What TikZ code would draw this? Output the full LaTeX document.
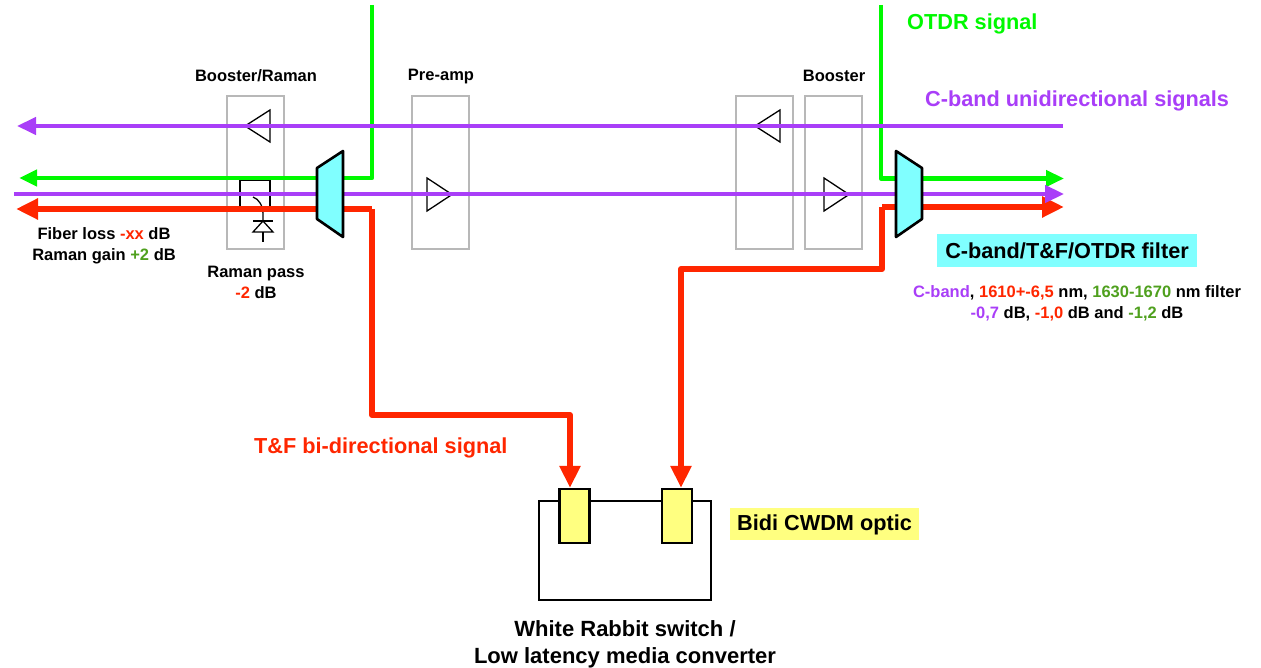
\documentclass[tikz,border=0pt]{standalone}
\usepackage{fontspec}
\setmainfont{Liberation Sans}
\usetikzlibrary{arrows.meta}
\definecolor{sigpurple}{HTML}{A93EF8}
\definecolor{siggreen}{HTML}{00F900}
\definecolor{sigred}{HTML}{FF2600}
\definecolor{txtgreen}{HTML}{4FA01E}
\definecolor{filtercyan}{HTML}{80FFFF}
\definecolor{opticyellow}{HTML}{FFFF80}
\tikzset{
  ampbox/.style={draw=black!28,line width=1.4pt,minimum width=57pt,minimum height=153pt,inner sep=0pt},
  opticbox/.style={draw=black,line width=2.2pt,fill=opticyellow,minimum width=30pt,minimum height=54pt,inner sep=0pt},
  small/.style={font=\fontsize{16.5}{21}\selectfont\bfseries,align=center,inner sep=0pt},
  big/.style={font=\fontsize{21.7}{27}\selectfont\bfseries,inner sep=0pt},
  purplesig/.style={draw=sigpurple,line width=4.5pt,-{Triangle[length=19pt,width=17pt]}},
  greensig/.style={draw=siggreen,line width=4.5pt,-{Triangle[length=18pt,width=16pt]}},
  redsig/.style={draw=sigred,line width=6pt,-{Triangle[length=22pt,width=20pt]}},
  amp/.style={draw=black,line width=1.3pt,fill=white},
  filt/.style={draw=black,line width=2.6pt,fill=filtercyan,line join=round},
}
\begin{document}
\begin{tikzpicture}[x=1pt,y=-1pt]
  \useasboundingbox (0,0) rectangle (1261,668);
  % amplifier boxes
  \node[ampbox] (boostraman) at (255.5,172.5) {};
  \node[ampbox] (preamp) at (440.5,172.5) {};
  \node[ampbox] (boostrx) at (764.5,172.5) {};
  \node[ampbox] (boosttx) at (833.5,172.5) {};
  % triangles
  \draw[amp] (245,126)--(270,110)--(270,142)--cycle;
  \draw[amp] (427,178)--(452,194.5)--(427,211)--cycle;
  \draw[amp] (755,126)--(780,110)--(780,142)--cycle;
  \draw[amp] (824,178)--(849,194.5)--(824,211)--cycle;
  % raman pass
  \coordinate (bypassa) at (240,208);
  \coordinate (bypassb) at (270,208);
  \coordinate (diodetop) at (263,221);
  \coordinate (diodelow) at (263,232);
  \draw[line width=1.3pt] (bypassa)--(240,180.5)--(270,180.5)--(bypassb);
  \draw[line width=1.3pt] (253,197) .. controls (259,199) and (263,206) .. (263,214)--(diodetop);
  \draw[line width=1.3pt] (diodelow)--(263,242);
  \draw[line width=1.3pt] (253,221)--(273,221);
  \draw[line width=1.3pt] (diodetop)--(273,232)--(253,232)--cycle;
  % switch with optics
  \node[draw,line width=2.2pt,minimum width=172pt,minimum height=99pt,inner sep=0pt] (switchbox) at (625,550.5) {};
  \node[opticbox] (optica) at (574.5,516) {};
  \node[opticbox] (opticb) at (677,516) {};
  % ends of the signals
  \coordinate (otdrW) at (372,5);
  \coordinate (otdrE) at (881,5);
  \coordinate (greenW) at (19,178);
  \coordinate (greenE) at (1064,178.5);
  \coordinate (redW) at (16,209);
  \coordinate (redE) at (1064,207);
  \coordinate (redturnW) at (372,209);
  \coordinate (redturnE) at (882,207);
  \coordinate (purpleaW) at (17,126);
  \coordinate (purpleaE) at (1063,126);
  \coordinate (purplebW) at (14,194);
  \coordinate (purplebE) at (1064,194);
  % signals
  \draw[greensig,line join=round] (otdrW)|-(greenW);
  \draw[greensig,line join=round] (otdrE)|-(greenE);
  \draw[redsig] (redturnW)--(redW);
  \draw[redsig,line join=round] (redturnW)--(372,415)--(570,415)--(570,0 |- optica.north);
  \draw[redsig] (redturnE)--(redE);
  \draw[redsig,line join=round] (redturnE)--(882,269)--(681,269)--(681,0 |- opticb.north);
  \draw[purplesig] (purpleaE)--(purpleaW);
  \draw[purplesig] (purplebW)--(purplebE);
  % filters
  \draw[filt] (317,168)--(343,151)--(343,237)--(317,219)--cycle;
  \draw[filt] (896,151)--(922,168)--(922,219)--(896,237)--cycle;
  % labels
  \node[small] (lblboostraman) at (256,75.5) {Booster/Raman};
  \node[small] (lblpreamp) at (441,77) {Pre-amp};
  \node[small] (lblbooster) at (834,75.5) {Booster};
  \node[small] (lblloss) at (104,246) {Fiber loss \textcolor{sigred}{-xx} dB\\Raman gain \textcolor{txtgreen}{+2} dB};
  \node[small] (lblpass) at (256,282) {Raman pass\\\textcolor{sigred}{-2} dB};
  \node[small] (lblfilter) at (1077,303.5) {\textcolor{sigpurple}{C-band}, \textcolor{sigred}{1610+-6,5} nm, \textcolor{txtgreen}{1630-1670} nm filter\\\textcolor{sigpurple}{-0,7} dB, \textcolor{sigred}{-1,0} dB and \textcolor{txtgreen}{-1,2} dB};
  \node[big,text=siggreen,anchor=west] (lblotdr) at (907,24) {OTDR signal};
  \node[big,text=sigpurple,anchor=west] (lblcband) at (925,101) {C-band unidirectional signals};
  \node[big,text=sigred,anchor=west] (lbltf) at (254,448) {T\&F bi-directional signal};
  \node[big,fill=filtercyan,minimum width=260pt,minimum height=33pt] (lblcyan) at (1067,250.5) {C-band/T\&F/OTDR filter};
  \node[big,fill=opticyellow,minimum width=189pt,minimum height=32pt,text height=15pt,text depth=3pt] (lblbidi) at (824.5,524) {Bidi CWDM optic};
  \node[big,align=center,font=\fontsize{22}{27}\selectfont\bfseries] (lblswitch) at (625,644.5) {White Rabbit switch /\\Low latency media converter};
\end{tikzpicture}
\end{document}
